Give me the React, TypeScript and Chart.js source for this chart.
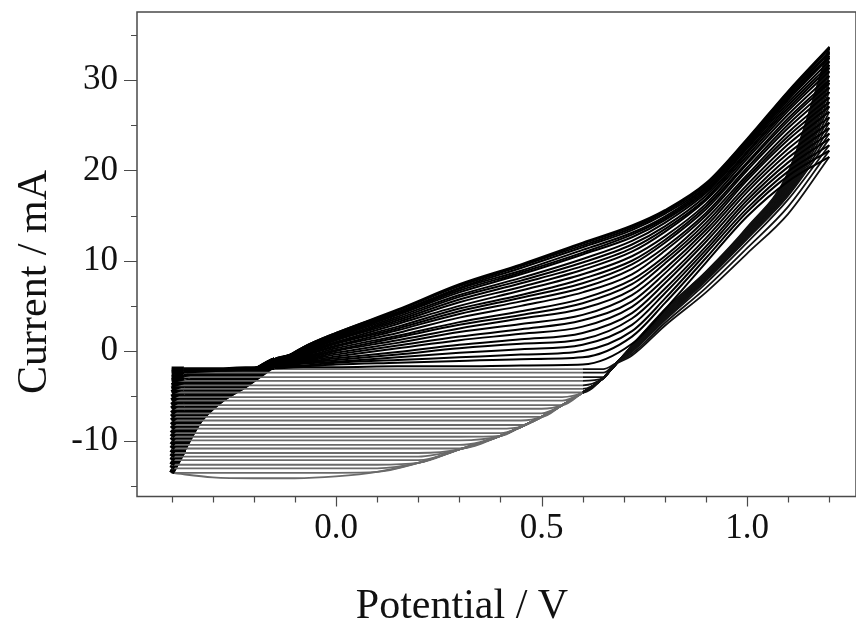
import React, { useEffect, useRef } from 'react';
import { Chart, registerables } from 'chart.js';

Chart.register(...registerables);

// Number of voltammetric cycles drawn
const CYCLE_COUNT = 28;

// Forward (anodic) scan potentials, V
const forwardPotentials = [-0.40, -0.37, -0.33, -0.28, -0.22, -0.15, -0.08, 0.0, 0.15, 0.3, 0.45, 0.6, 0.72, 0.8, 0.9, 1.0, 1.1, 1.2];

// Forward scan current (mA): one row per potential above, one entry per cycle (first -> last)
const forwardCurrents = [
  [-2.0,-2.4,-2.9,-3.3,-3.8,-4.2,-4.6,-5.1,-5.5,-6.0,-6.4,-6.9,-7.3,-7.7,-8.2,-8.6,-9.1,-9.5,-9.9,-10.4,-10.8,-11.3,-11.7,-12.1,-12.6,-13.0,-13.5,-13.5],
  [-2.0,-2.3,-2.7,-3.0,-3.4,-3.7,-4.0,-4.4,-4.7,-5.1,-5.4,-5.8,-6.1,-6.5,-6.9,-7.2,-7.6,-7.9,-8.2,-8.6,-8.9,-9.3,-9.6,-9.9,-10.3,-10.6,-11.0,-11.0],
  [-2.0,-2.2,-2.4,-2.6,-2.9,-3.1,-3.3,-3.5,-3.8,-4.0,-4.2,-4.5,-4.7,-4.9,-5.1,-5.3,-5.6,-5.8,-6.0,-6.2,-6.4,-6.7,-6.9,-7.1,-7.3,-7.5,-7.8,-7.8],
  [-2.0,-2.1,-2.3,-2.4,-2.5,-2.7,-2.8,-3.0,-3.1,-3.2,-3.4,-3.5,-3.6,-3.8,-3.9,-4.1,-4.2,-4.3,-4.5,-4.6,-4.8,-4.9,-5.0,-5.2,-5.3,-5.4,-5.6,-5.6],
  [-1.9,-2.0,-2.1,-2.1,-2.2,-2.3,-2.3,-2.4,-2.5,-2.6,-2.7,-2.7,-2.8,-2.9,-3.0,-3.0,-3.1,-3.2,-3.3,-3.3,-3.4,-3.5,-3.6,-3.6,-3.7,-3.8,-3.9,-3.9],
  [-1.9,-1.8,-1.7,-1.6,-1.5,-1.4,-1.3,-1.2,-1.1,-1.0,-1.0,-0.9,-0.9,-0.9,-0.9,-0.9,-1.0,-1.0,-1.1,-1.1,-1.2,-1.3,-1.3,-1.4,-1.5,-1.5,-1.6,-1.7],
  [-1.8,-1.7,-1.6,-1.4,-1.3,-1.2,-1.1,-1.0,-0.9,-0.8,-0.7,-0.6,-0.5,-0.4,-0.3,-0.2,-0.1,-0.1,0.0,0.1,0.1,0.2,0.2,0.3,0.3,0.4,0.4,0.4],
  [-1.8,-1.5,-1.3,-1.2,-1.0,-0.8,-0.6,-0.4,-0.2,0.0,0.1,0.3,0.5,0.6,0.8,0.9,1.0,1.2,1.3,1.4,1.5,1.6,1.7,1.8,1.9,1.9,2.0,2.0],
  [-1.7,-1.3,-1.0,-0.7,-0.4,-0.1,0.3,0.6,0.9,1.2,1.5,1.7,2.0,2.3,2.5,2.7,3.0,3.2,3.4,3.6,3.8,4.0,4.1,4.2,4.3,4.5,4.5,4.6],
  [-1.7,-1.1,-0.7,-0.2,0.3,0.7,1.2,1.6,2.1,2.5,2.9,3.2,3.7,4.1,4.4,4.7,5.0,5.4,5.7,6.0,6.2,6.5,6.7,6.9,7.0,7.2,7.3,7.4],
  [-1.6,-0.9,-0.4,0.2,0.8,1.3,1.9,2.4,3.0,3.6,4.0,4.4,5.0,5.5,5.9,6.2,6.7,7.1,7.5,7.8,8.1,8.5,8.7,8.9,9.2,9.4,9.5,9.6],
  [-1.5,-0.7,0.0,0.7,1.3,2.0,2.7,3.4,4.0,4.7,5.3,5.8,6.5,7.0,7.5,8.0,8.5,9.0,9.4,9.8,10.2,10.7,10.9,11.2,11.5,11.7,11.9,12.0],
  [0.8,1.6,2.2,2.9,3.6,4.2,4.9,5.5,6.2,6.8,7.4,7.9,8.5,9.1,9.6,10.0,10.5,11.0,11.4,11.8,12.2,12.6,12.9,13.1,13.4,13.6,13.8,13.9],
  [4.6,5.3,5.8,6.4,6.9,7.5,8.0,8.6,9.1,9.7,10.1,10.5,11.1,11.5,12.0,12.3,12.7,13.2,13.5,13.8,14.2,14.5,14.7,14.9,15.2,15.4,15.5,15.6],
  [9.8,10.3,10.8,11.2,11.6,12.1,12.5,13.0,13.4,13.8,14.2,14.6,15.0,15.3,15.7,16.0,16.3,16.7,16.9,17.2,17.5,17.7,17.9,18.1,18.2,18.4,18.5,18.6],
  [14.9,15.4,15.8,16.3,16.7,17.1,17.6,18.0,18.4,18.9,19.2,19.5,20.0,20.3,20.7,20.9,21.3,21.6,21.9,22.1,22.4,22.6,22.8,23.0,23.2,23.3,23.4,23.5],
  [18.8,19.4,19.9,20.4,20.9,21.4,21.9,22.4,22.9,23.4,23.8,24.2,24.7,25.1,25.5,25.8,26.2,26.6,26.9,27.2,27.5,27.8,28.0,28.2,28.4,28.6,28.7,28.8],
  [21.5,22.2,22.8,23.5,24.1,24.7,25.3,25.9,26.5,27.1,27.6,28.1,28.7,29.2,29.7,30.0,30.5,31.0,31.4,31.7,32.1,32.5,32.7,33.0,33.2,33.5,33.6,33.7],
];

// Reverse (cathodic) scan potentials, V
const reversePotentials = [1.2, 1.1, 1.0, 0.9, 0.8, 0.72, 0.68, 0.65, 0.6, 0.55, 0.5, 0.45, 0.4, 0.3, 0.2, 0.1, 0.0, -0.1, -0.2, -0.3, -0.4];

// Reverse scan current (mA): one row per potential above, one entry per cycle
const reverseCurrents = [
  [21.5,22.2,22.8,23.5,24.1,24.7,25.3,25.9,26.5,27.1,27.6,28.1,28.7,29.2,29.7,30.0,30.5,31.0,31.4,31.7,32.1,32.5,32.7,33.0,33.2,33.5,33.6,33.7],
  [15.2,16.0,16.8,17.2,17.3,17.4,17.5,17.6,17.6,17.8,17.9,18.0,18.1,18.2,18.3,18.4,18.5,18.6,18.7,18.9,19.0,19.1,19.2,19.3,19.4,19.5,19.7,19.8],
  [10.8,11.4,12.0,12.4,12.5,12.5,12.6,12.6,12.7,12.7,12.8,12.8,12.9,12.9,13.0,13.0,13.1,13.2,13.2,13.3,13.3,13.4,13.4,13.5,13.5,13.6,13.6,13.7],
  [6.5,7.0,7.5,7.8,7.8,7.9,7.9,8.0,8.0,8.1,8.1,8.1,8.2,8.2,8.3,8.3,8.3,8.4,8.4,8.5,8.5,8.5,8.6,8.6,8.7,8.7,8.7,8.8],
  [2.8,3.1,3.4,3.6,3.6,3.7,3.7,3.8,3.8,3.8,3.9,3.9,4.0,4.0,4.0,4.1,4.1,4.2,4.2,4.2,4.3,4.3,4.4,4.4,4.4,4.5,4.5,4.6],
  [-0.5,-0.3,-0.1,0.0,0.0,0.1,0.1,0.1,0.1,0.2,0.2,0.2,0.2,0.3,0.3,0.3,0.3,0.4,0.4,0.4,0.4,0.5,0.5,0.5,0.5,0.6,0.6,0.6],
  [-1.4,-1.4,-1.4,-1.4,-1.4,-1.4,-1.4,-1.4,-1.4,-1.4,-1.4,-1.4,-1.4,-1.4,-1.5,-1.5,-1.5,-1.5,-1.5,-1.5,-1.5,-1.5,-1.5,-1.5,-1.5,-1.5,-1.5,-1.5],
  [-2.0,-2.4,-2.9,-3.0,-3.0,-3.0,-3.0,-3.0,-3.0,-3.0,-3.0,-3.0,-3.0,-3.0,-3.0,-3.0,-3.0,-3.0,-3.0,-3.0,-3.0,-3.0,-3.0,-3.0,-3.0,-3.0,-3.0,-3.0],
  [-2.0,-2.4,-2.9,-3.3,-3.8,-4.2,-4.6,-4.6,-4.6,-4.6,-4.6,-4.6,-4.6,-4.6,-4.6,-4.6,-4.6,-4.6,-4.6,-4.6,-4.6,-4.6,-4.6,-4.6,-4.6,-4.6,-4.6,-4.6],
  [-2.0,-2.4,-2.9,-3.3,-3.8,-4.2,-4.6,-5.1,-5.5,-6.0,-6.0,-6.0,-6.0,-6.0,-6.0,-6.0,-6.0,-6.0,-6.0,-6.0,-6.0,-6.0,-6.0,-6.0,-6.0,-6.0,-6.0,-6.0],
  [-2.0,-2.4,-2.9,-3.3,-3.8,-4.2,-4.6,-5.1,-5.5,-6.0,-6.4,-6.9,-7.3,-7.3,-7.3,-7.3,-7.3,-7.3,-7.3,-7.3,-7.3,-7.3,-7.3,-7.3,-7.3,-7.3,-7.3,-7.3],
  [-2.0,-2.4,-2.9,-3.3,-3.8,-4.2,-4.6,-5.1,-5.5,-6.0,-6.4,-6.9,-7.3,-7.7,-8.2,-8.4,-8.4,-8.4,-8.4,-8.4,-8.4,-8.4,-8.4,-8.4,-8.4,-8.4,-8.4,-8.4],
  [-2.0,-2.4,-2.9,-3.3,-3.8,-4.2,-4.6,-5.1,-5.5,-6.0,-6.4,-6.9,-7.3,-7.7,-8.2,-8.6,-9.1,-9.4,-9.4,-9.4,-9.4,-9.4,-9.4,-9.4,-9.4,-9.4,-9.4,-9.4],
  [-2.0,-2.4,-2.9,-3.3,-3.8,-4.2,-4.6,-5.1,-5.5,-6.0,-6.4,-6.9,-7.3,-7.7,-8.2,-8.6,-9.1,-9.5,-9.9,-10.4,-10.8,-10.9,-10.9,-10.9,-10.9,-10.9,-10.9,-10.9],
  [-2.0,-2.4,-2.9,-3.3,-3.8,-4.2,-4.6,-5.1,-5.5,-6.0,-6.4,-6.9,-7.3,-7.7,-8.2,-8.6,-9.1,-9.5,-9.9,-10.4,-10.8,-11.3,-11.7,-12.1,-12.4,-12.4,-12.4,-12.4],
  [-2.0,-2.4,-2.9,-3.3,-3.8,-4.2,-4.6,-5.1,-5.5,-6.0,-6.4,-6.9,-7.3,-7.7,-8.2,-8.6,-9.1,-9.5,-9.9,-10.4,-10.8,-11.3,-11.7,-12.1,-12.6,-13.0,-13.4,-13.4],
  [-2.0,-2.4,-2.9,-3.3,-3.8,-4.2,-4.6,-5.1,-5.5,-6.0,-6.4,-6.9,-7.3,-7.7,-8.2,-8.6,-9.1,-9.5,-9.9,-10.4,-10.8,-11.3,-11.7,-12.1,-12.6,-13.0,-13.5,-13.9],
  [-2.0,-2.4,-2.9,-3.3,-3.8,-4.2,-4.6,-5.1,-5.5,-6.0,-6.4,-6.9,-7.3,-7.7,-8.2,-8.6,-9.1,-9.5,-9.9,-10.4,-10.8,-11.3,-11.7,-12.1,-12.6,-13.0,-13.5,-14.1],
  [-2.0,-2.4,-2.9,-3.3,-3.8,-4.2,-4.6,-5.1,-5.5,-6.0,-6.4,-6.9,-7.3,-7.7,-8.2,-8.6,-9.1,-9.5,-9.9,-10.4,-10.8,-11.3,-11.7,-12.1,-12.6,-13.0,-13.5,-14.1],
  [-2.0,-2.4,-2.9,-3.3,-3.8,-4.2,-4.6,-5.1,-5.5,-6.0,-6.4,-6.9,-7.3,-7.7,-8.2,-8.6,-9.1,-9.5,-9.9,-10.4,-10.8,-11.3,-11.7,-12.1,-12.6,-13.0,-13.5,-14.0],
  [-2.0,-2.4,-2.9,-3.3,-3.8,-4.2,-4.6,-5.1,-5.5,-6.0,-6.4,-6.9,-7.3,-7.7,-8.2,-8.6,-9.1,-9.5,-9.9,-10.4,-10.8,-11.3,-11.7,-12.1,-12.6,-13.0,-13.5,-13.5],
];

// Axis ticks
const xTickValues = [-0.4, -0.3, -0.2, -0.1, 0.0, 0.1, 0.2, 0.3, 0.4, 0.5, 0.6, 0.7, 0.8, 0.9, 1.0, 1.1, 1.2];
const xTickLabels = ['', '', '', '', '0.0', '', '', '', '', '0.5', '', '', '', '', '1.0', '', ''];
const yTickValues = [-15, -10, -5, 0, 5, 10, 15, 20, 25, 30, 35];
const yTickLabels = ['', '-10', '', '0', '', '10', '', '20', '', '30', ''];

const X_TITLE = 'Potential / V';
const Y_TITLE = 'Current / mA';

const SERIF = '"Liberation Serif", "Times New Roman", Times, serif';

const framePlugin = {
  id: 'frame',
  afterDraw(chart: any) {
    const { ctx, chartArea: a, scales } = chart;
    const xs = scales.x;
    const ys = scales.y;
    ctx.save();
    ctx.strokeStyle = '#4a4a4a';
    ctx.lineWidth = 1.5;
    ctx.strokeRect(a.left, a.top, a.right - a.left, a.bottom - a.top);
    ctx.lineWidth = 1.2;
    ctx.beginPath();
    yTickValues.forEach((v, i) => {
      const py = Math.round(ys.getPixelForValue(v)) + 0.5;
      const len = yTickLabels[i] ? 13 : 6;
      ctx.moveTo(a.left - len, py);
      ctx.lineTo(a.left, py);
    });
    xTickValues.forEach((v, i) => {
      const px = Math.round(xs.getPixelForValue(v)) + 0.5;
      const len = xTickLabels[i] ? 10 : 6;
      ctx.moveTo(px, a.bottom);
      ctx.lineTo(px, a.bottom + len);
    });
    ctx.stroke();

    ctx.fillStyle = '#111';
    ctx.font = `42px ${SERIF}`;
    ctx.textAlign = 'center';
    ctx.textBaseline = 'alphabetic';
    ctx.fillText(X_TITLE, 462, 618);
    ctx.translate(46, 282);
    ctx.rotate(-Math.PI / 2);
    ctx.fillText(Y_TITLE, 0, 0);
    ctx.restore();
  },
};

export default function App() {
  const canvasRef = useRef<HTMLCanvasElement | null>(null);

  useEffect(() => {
    const canvas = canvasRef.current;
    if (!canvas) return;

    const datasets: any[] = [];
    for (let k = 0; k < CYCLE_COUNT; k++) {
      datasets.push({
        label: `cycle ${k + 1} forward`,
        data: forwardPotentials.map((e, j) => ({ x: e, y: forwardCurrents[j][k] })),
        showLine: true,
        borderColor: '#000',
        borderWidth: 2.0,
        pointRadius: 0,
        fill: false,
        cubicInterpolationMode: 'monotone',
        segment: {
          borderWidth: (c: any) => (c.p1.parsed.x <= -0.36 ? 5 : c.p1.parsed.x <= -0.15 ? 3.6 : undefined),
        },
      });
      datasets.push({
        label: `cycle ${k + 1} reverse`,
        data: reversePotentials.map((e, j) => ({ x: e, y: reverseCurrents[j][k] })).reverse(),
        showLine: true,
        borderColor: '#111',
        borderWidth: 1.8,
        pointRadius: 0,
        fill: false,
        cubicInterpolationMode: 'monotone',
        segment: {
          borderColor: (c: any) => (c.p1.parsed.x <= 0.6 ? '#6a6a6a' : undefined),
        },
      });
    }

    const chart = new Chart(canvas, {
      type: 'scatter',
      data: { datasets },
      plugins: [framePlugin],
      options: {
        responsive: false,
        animation: false,
        devicePixelRatio: 1,
        events: [],
        layout: { padding: { top: 12, left: 0, right: 0, bottom: 0 } },
        plugins: { legend: { display: false }, tooltip: { enabled: false } },
        scales: {
          x: {
            type: 'linear',
            min: -0.4842,
            max: 1.265,
            grid: { display: false, drawTicks: false },
            border: { display: false },
            afterBuildTicks: (scale: any) => {
              scale.ticks = xTickValues.map((v) => ({ value: v }));
            },
            afterFit: (scale: any) => {
              scale.height = 124.5;
              scale.paddingLeft = 0;
              scale.paddingRight = 0;
            },
            ticks: {
              autoSkip: false,
              maxRotation: 0,
              padding: 11,
              color: '#111',
              font: { family: SERIF, size: 35 },
              callback: (_v: any, i: number) => xTickLabels[i],
            },
          },
          y: {
            type: 'linear',
            min: -16.12,
            max: 37.56,
            grid: { display: false, drawTicks: false },
            border: { display: false },
            afterBuildTicks: (scale: any) => {
              scale.ticks = yTickValues.map((v) => ({ value: v }));
            },
            afterFit: (scale: any) => {
              scale.width = 137;
              scale.paddingTop = 0;
              scale.paddingBottom = 0;
            },
            ticks: {
              autoSkip: false,
              padding: 19,
              color: '#111',
              font: { family: SERIF, size: 35 },
              callback: (_v: any, i: number) => yTickLabels[i],
            },
          },
        },
      },
    });

    return () => chart.destroy();
  }, []);

  return (
    <div style={{ position: 'absolute', left: 0, top: 0, width: 856, height: 621, background: '#fff' }}>
      <canvas ref={canvasRef} width={856} height={621} style={{ display: 'block' }} />
    </div>
  );
}
